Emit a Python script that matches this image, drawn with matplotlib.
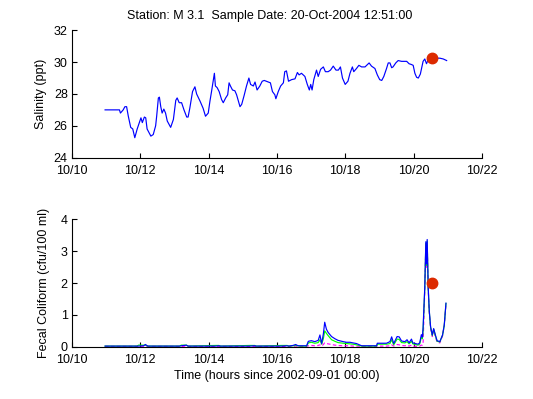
import matplotlib
matplotlib.use("Agg")
import matplotlib.pyplot as plt

plt.rcParams['font.family'] = ['Liberation Sans', 'DejaVu Sans']

title_text = "Station: M 3.1  Sample Date: 20-Oct-2004 12:51:00"
xtick_vals = [10, 12, 14, 16, 18, 20, 22]
xtick_labels = ["10/10", "10/12", "10/14", "10/16", "10/18", "10/20", "10/22"]

# Salinity time series (day of October 2004, ppt)
sal_t = [10.97, 11.39, 11.42, 11.50, 11.55, 11.60, 11.65, 11.72, 11.78, 11.84,
         11.91, 11.99, 12.02, 12.06, 12.12, 12.16, 12.20, 12.26, 12.31, 12.38,
         12.45, 12.48, 12.53, 12.56, 12.60, 12.64, 12.69, 12.74, 12.79, 12.89,
         12.97, 13.04, 13.08, 13.14, 13.21, 13.28, 13.36, 13.40, 13.45, 13.53,
         13.60, 13.65, 13.75, 13.84, 13.91, 13.99, 14.04, 14.09, 14.14, 14.17,
         14.20, 14.25, 14.31, 14.38, 14.43, 14.50, 14.56, 14.60, 14.64, 14.70,
         14.77, 14.82, 14.92, 14.97, 15.04, 15.11, 15.18, 15.23, 15.31, 15.36,
         15.42, 15.50, 15.57, 15.63, 15.75, 15.81, 15.87, 15.94, 15.97, 16.04,
         16.11, 16.19, 16.23, 16.28, 16.34, 16.43, 16.53, 16.60, 16.65, 16.72,
         16.82, 16.89, 16.95, 16.99, 17.03, 17.08, 17.16, 17.21, 17.28, 17.36,
         17.42, 17.50, 17.57, 17.65, 17.73, 17.80, 17.86, 17.92, 18.00, 18.08,
         18.14, 18.21, 18.25, 18.33, 18.40, 18.48, 18.58, 18.70, 18.77, 18.87,
         18.94, 19.01, 19.07, 19.13, 19.21, 19.26, 19.31, 19.36, 19.40, 19.48,
         19.55, 19.65, 19.80, 19.87, 19.94, 19.99, 20.04, 20.09, 20.14, 20.20,
         20.28, 20.33, 20.38, 20.43, 20.53, 20.67, 20.77, 20.87, 20.97]
sal_v = [27.0, 27.0, 26.8, 27.0, 27.2, 27.2, 26.6, 25.9, 25.8, 25.25,
         25.8, 26.3, 26.5, 26.2, 26.55, 26.5, 25.8, 25.55, 25.35, 25.45,
         26.0, 26.6, 27.75, 27.8, 27.2, 26.8, 27.05, 26.8, 26.3, 25.9,
         26.4, 27.6, 27.75, 27.45, 27.45, 27.0, 26.55, 26.55, 27.1, 28.15,
         28.45, 28.0, 27.55, 27.1, 26.6, 26.8, 27.55, 28.2, 28.9, 29.3,
         28.5, 28.4, 28.15, 27.65, 27.45, 27.75, 27.95, 28.7, 28.5, 28.25,
         28.2, 27.95, 27.2, 27.35, 27.9, 28.5, 29.0, 28.6, 28.5, 28.75,
         28.25, 28.5, 28.8, 28.85, 28.75, 28.7, 28.15, 27.95, 27.7, 28.15,
         28.5, 28.7, 29.4, 29.45, 28.8, 28.9, 28.95, 29.35, 29.2, 29.3,
         29.1, 28.6, 28.25, 28.6, 28.25, 28.9, 29.5, 29.1, 29.55, 29.7,
         29.4, 29.4, 29.5, 29.75, 29.5, 29.5, 29.7, 29.0, 28.6, 28.8,
         29.3, 29.7, 29.4, 29.6, 29.8, 29.7, 29.7, 29.95, 29.75, 29.6,
         29.2, 28.9, 28.85, 29.1, 29.6, 29.95, 29.95, 29.65, 29.7, 29.95,
         30.1, 30.05, 30.05, 29.9, 29.85, 29.8, 29.3, 29.05, 29.0, 29.25,
         30.05, 30.2, 29.9, 30.15, 30.25, 30.25, 30.25, 30.2, 30.1]

# Fecal coliform series (thousands cfu/100 ml)
fc_t = [10.97, 11.90, 11.95, 12.10, 12.15, 12.22, 13.15, 13.20, 13.35, 13.40,
        14.20, 14.30, 14.35, 15.20, 15.35, 15.40, 16.15, 16.30, 16.35, 16.47,
        16.55, 16.62, 16.67, 16.87, 16.92, 17.01, 17.11, 17.21, 17.26, 17.31,
        17.36, 17.40, 17.45, 17.50, 17.60, 17.70, 17.79, 17.94, 18.04, 18.14,
        18.23, 18.33, 18.48, 18.92, 18.94, 19.21, 19.31, 19.36, 19.42, 19.52,
        19.58, 19.65, 19.75, 19.81, 19.87, 19.94, 19.98, 20.13, 20.18, 20.23,
        20.26, 20.28, 20.33, 20.36, 20.38, 20.40, 20.43, 20.46, 20.50, 20.55,
        20.59, 20.64, 20.69, 20.77, 20.85, 20.90, 20.95]
fc_upper = [0.02, 0.02, 0.02, 0.03, 0.07, 0.02, 0.02, 0.03, 0.05, 0.02,
            0.02, 0.03, 0.02, 0.02, 0.03, 0.02, 0.02, 0.03, 0.02, 0.04,
            0.07, 0.03, 0.03, 0.03, 0.17, 0.19, 0.16, 0.20, 0.37, 0.10,
            0.40, 0.77, 0.55, 0.45, 0.32, 0.25, 0.20, 0.16, 0.14, 0.14,
            0.12, 0.10, 0.03, 0.03, 0.11, 0.11, 0.16, 0.31, 0.10, 0.32,
            0.31, 0.18, 0.16, 0.22, 0.12, 0.24, 0.12, 0.08, 0.12, 0.38,
            0.30, 0.60, 1.88, 3.30, 2.60, 3.37, 1.88, 1.15, 0.63, 0.37,
            0.57, 0.37, 0.19, 0.16, 0.37, 0.68, 1.37]
fc_mid = [0.02, 0.02, 0.05, 0.05, 0.05, 0.02, 0.02, 0.05, 0.05, 0.02,
          0.04, 0.04, 0.02, 0.04, 0.04, 0.02, 0.04, 0.04, 0.02, 0.03,
          0.04, 0.03, 0.02, 0.02, 0.12, 0.14, 0.11, 0.13, 0.22, 0.08,
          0.25, 0.50, 0.42, 0.35, 0.22, 0.17, 0.13, 0.11, 0.10, 0.09,
          0.08, 0.06, 0.02, 0.02, 0.08, 0.08, 0.10, 0.22, 0.06, 0.24,
          0.23, 0.13, 0.12, 0.16, 0.09, 0.17, 0.09, 0.05, 0.08, 0.30,
          0.25, 0.50, 1.84, 3.25, 2.55, 3.32, 1.84, 1.12, 0.60, 0.35,
          0.55, 0.35, 0.17, 0.15, 0.36, 0.67, 1.36]
fc_lower = [0.01, 0.01, 0.01, 0.02, 0.03, 0.01, 0.01, 0.01, 0.02, 0.01,
            0.01, 0.01, 0.01, 0.01, 0.01, 0.01, 0.01, 0.01, 0.01, 0.01,
            0.02, 0.01, 0.01, 0.01, 0.03, 0.04, 0.03, 0.04, 0.06, 0.02,
            0.07, 0.12, 0.10, 0.09, 0.07, 0.05, 0.04, 0.03, 0.03, 0.03,
            0.02, 0.02, 0.01, 0.01, 0.02, 0.02, 0.03, 0.06, 0.02, 0.07,
            0.06, 0.04, 0.03, 0.05, 0.02, 0.05, 0.02, 0.01, 0.02, 0.05,
            0.05, 0.09, 1.80, 3.20, 2.50, 3.27, 1.80, 1.09, 0.56, 0.32,
            0.52, 0.32, 0.14, 0.12, 0.34, 0.66, 1.35]

sample_t = 20.535
sample_sal = 30.25
sample_fc = 2.0

fig = plt.figure(figsize=(5.33, 3.99), dpi=100)
ax1 = fig.add_axes([0.135, 0.605, 0.769, 0.319])
ax2 = fig.add_axes([0.135, 0.131, 0.769, 0.319])

dot_color = '#dc2a00'
for ax in (ax1, ax2):
    for s in ('top', 'right'):
        ax.spines[s].set_visible(False)
    for s in ('left', 'bottom'):
        ax.spines[s].set_linewidth(0.8)
    ax.tick_params(direction='in', length=3.5, width=0.8, labelsize=9)
    ax.tick_params(axis='x', pad=5)
    ax.tick_params(axis='y', pad=3)
    ax.set_xlim(10, 22)
    ax.set_xticks(xtick_vals)
    ax.set_xticklabels(xtick_labels)

ax1.plot(sal_t, sal_v, color='#0000ff', lw=0.85)
ax1.plot([sample_t], [sample_sal], 'o', color=dot_color, ms=7.5, mec=dot_color)
ax1.set_ylim(24, 32)
ax1.set_yticks([24, 26, 28, 30, 32])
ax1.set_ylabel("Salinity (ppt)", fontsize=9, labelpad=5)

ax2.plot(fc_t, fc_lower, color='#ff00ff', lw=0.85, ls=(0, (3, 2)))
ax2.plot(fc_t, fc_mid, color='#00ff00', lw=0.85)
ax2.plot(fc_t, fc_upper, color='#0000ff', lw=0.85)
ax2.plot([sample_t], [sample_fc], 'o', color=dot_color, ms=7.5, mec=dot_color)
ax2.set_ylim(0, 4)
ax2.set_yticks([0, 1, 2, 3, 4])
ax2.set_ylabel("Fecal Coliform (cfu/100 ml)", fontsize=9, labelpad=8)
ax2.set_xlabel("Time (hours since 2002-09-01 00:00)", fontsize=9, labelpad=3)

fig.text(270 / 533, 1 - 16 / 399, title_text, ha='center', va='center', fontsize=9)

fig.savefig("out.png", dpi=100)
